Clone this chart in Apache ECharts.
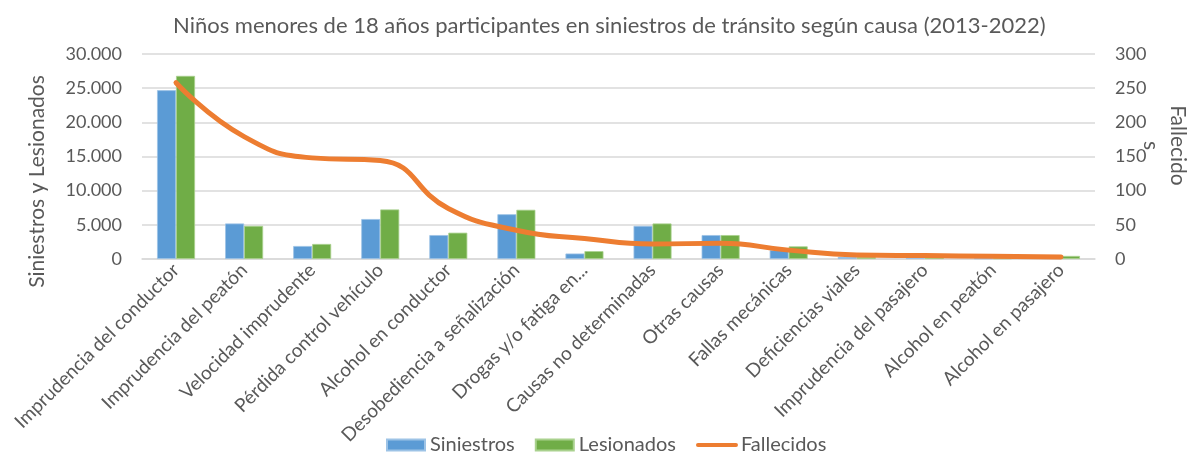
<!DOCTYPE html>
<html>
<head>
<meta charset="utf-8">
<script src="https://cdn.jsdelivr.net/npm/echarts@6/dist/echarts.min.js"></script>
<style>
html,body{margin:0;padding:0;background:#fff;}
#chart{width:1191px;height:458px;}
</style>
</head>
<body>
<div id="chart"></div>
<script>
const categories = ['Imprudencia del conductor','Imprudencia del peatón','Velocidad imprudente','Pérdida control vehículo','Alcohol en conductor','Desobediencia a señalización','Drogas y/o fatiga en...','Causas no determinadas','Otras causas','Fallas mecánicas','Deficiencias viales','Imprudencia del pasajero','Alcohol en peatón','Alcohol en pasajero'];
const siniestros = [24700, 5200, 1900, 5850, 3500, 6550, 800, 4850, 3500, 1300, 300, 150, 100, 150];
const lesionados = [26800, 4850, 2200, 7250, 3850, 7200, 1150, 5200, 3500, 1850, 300, 200, 100, 450];
const fallecidos = [258, 179, 148, 144, 74, 42, 30, 22, 23, 13, 6, 5, 4, 3];
const leftTicks = {min: 0, max: 30000, interval: 5000};
const rightTicks = {min: 0, max: 300, interval: 50};

const FONT = 'Lato';
const TXT = '#595959';
function fmtThousands(v){ return String(v).replace(/\B(?=(\d{3})+(?!\d))/g, '.'); }

const chart = echarts.init(document.getElementById('chart'), null, {renderer:'canvas'});
chart.setOption({
  animation: false,
  backgroundColor: '#fff',
  textStyle: {fontFamily: FONT, color: TXT},
  title: {
    text: 'Niños menores de 18 años participantes en siniestros de tránsito según causa (2013-2022)',
    left: 168, top: 10,
    textStyle: {fontFamily: FONT, fontSize: 22, fontWeight: 'normal', color: TXT}
  },
  legend: {
    bottom: -2, left: 381, itemGap: 20,
    itemWidth: 38, itemHeight: 11,
    textStyle: {fontFamily: FONT, fontSize: 20, color: TXT},
    data: [
      {name:'Siniestros', icon:'rect'},
      {name:'Lesionados', icon:'rect'},
      {name:'Fallecidos', itemStyle: {opacity: 0}, lineStyle: {width: 4, cap: 'round'}}
    ]
  },
  grid: {left: 142, right: 96, top: 54, bottom: 199, containLabel: false, outerBoundsMode: 'none'},
  xAxis: {
    type: 'category', data: categories,
    axisLine: {lineStyle: {color: '#D9D9D9', width: 1.5}},
    axisTick: {show: false},
    axisLabel: {rotate: 45, interval: 0, fontFamily: FONT, fontSize: 19, color: TXT, margin: 8}
  },
  yAxis: [{
    type: 'value', min: leftTicks.min, max: leftTicks.max, interval: leftTicks.interval,
    name: 'Siniestros y Lesionados', nameLocation: 'middle', nameGap: 94, nameMoveOverlap: false,
    nameTextStyle: {fontFamily: FONT, fontSize: 21, color: TXT, padding: [0, 50, 0, 0]},
    axisLine: {show: false}, axisTick: {show: false},
    axisLabel: {fontFamily: FONT, fontSize: 18, color: TXT, margin: 20, formatter: fmtThousands},
    splitLine: {lineStyle: {color: '#D9D9D9', width: 1.5}}
  }, {
    type: 'value', min: rightTicks.min, max: rightTicks.max, interval: rightTicks.interval,
    name: 'Fallecido\ns', nameLocation: 'middle', nameGap: 42, nameRotate: -90, nameMoveOverlap: false,
    nameTextStyle: {fontFamily: FONT, fontSize: 21, color: TXT, lineHeight: 27, padding: [0, 22, 0, 0]},
    axisLine: {show: false}, axisTick: {show: false},
    axisLabel: {fontFamily: FONT, fontSize: 18, color: TXT, margin: 20},
    splitLine: {show: false}
  }],
  series: [{
    name: 'Siniestros', type: 'bar', data: siniestros, barWidth: 19, barGap: '0%',
    itemStyle: {color: '#5B9BD5', borderColor: '#9DC3E6', borderWidth: 0.8}
  }, {
    name: 'Lesionados', type: 'bar', data: lesionados, barWidth: 19,
    itemStyle: {color: '#70AD47', borderColor: '#A9D18E', borderWidth: 0.8}
  }, {
    name: 'Fallecidos', type: 'line', yAxisIndex: 1, data: fallecidos, smooth: 0.5,
    showSymbol: false, symbol: 'none',
    lineStyle: {color: '#ED7D31', width: 5, cap: 'round'},
    itemStyle: {color: '#ED7D31'}
  }]
});
</script>
</body>
</html>
